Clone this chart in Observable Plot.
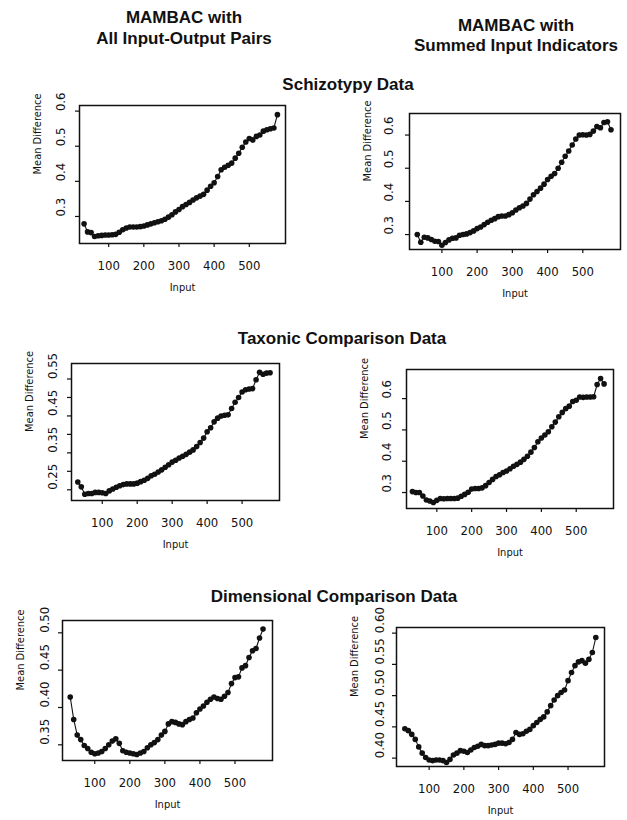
<!DOCTYPE html>
<html><head><meta charset="utf-8">
<script src="https://cdn.jsdelivr.net/npm/d3@7"></script>
<script src="https://cdn.jsdelivr.net/npm/@observablehq/plot@0.6"></script>
<style>
body{margin:0;background:#fff;}
#page{position:relative;width:627px;height:820px;overflow:hidden;background:#fff;}
.h{position:absolute;transform:translate(-50%,-50%);font-family:"Liberation Sans",Arial,sans-serif;font-weight:bold;font-size:17px;white-space:nowrap;color:#111;line-height:1}
.panel{position:absolute}
</style></head><body><div id="page"></div>
<script>
// ---- data ----
const inputs = [30,40,50,60,70,80,90,100,110,120,130,140,150,160,170,180,190,200,210,220,230,240,250,260,270,280,290,300,310,320,330,340,350,360,370,380,390,400,410,420,430,440,450,460,470,480,490,500,510,520,530,540,550,560,570,580];

const schizoAll = [0.279,0.256,0.254,0.243,0.245,0.246,0.247,0.247,0.248,0.249,0.255,0.262,0.267,0.270,0.270,0.270,0.271,0.273,0.276,0.279,0.282,0.285,0.288,0.292,0.298,0.305,0.313,0.320,0.328,0.334,0.340,0.347,0.353,0.358,0.363,0.375,0.386,0.396,0.414,0.433,0.440,0.446,0.452,0.466,0.480,0.497,0.512,0.522,0.518,0.528,0.532,0.543,0.547,0.550,0.552,0.590];
const schizoSum = [0.300,0.277,0.292,0.290,0.285,0.280,0.279,0.268,0.276,0.284,0.289,0.290,0.298,0.300,0.302,0.306,0.311,0.318,0.323,0.330,0.337,0.343,0.348,0.354,0.356,0.356,0.360,0.366,0.374,0.381,0.386,0.394,0.407,0.420,0.430,0.440,0.452,0.466,0.476,0.484,0.500,0.518,0.536,0.552,0.570,0.588,0.600,0.601,0.600,0.602,0.612,0.626,0.622,0.638,0.640,0.616];
const taxonAll = [0.271,0.258,0.238,0.240,0.240,0.243,0.243,0.242,0.240,0.247,0.252,0.257,0.261,0.264,0.266,0.266,0.266,0.268,0.272,0.276,0.281,0.288,0.292,0.298,0.304,0.311,0.318,0.325,0.330,0.336,0.341,0.346,0.352,0.358,0.367,0.378,0.390,0.407,0.418,0.434,0.444,0.450,0.452,0.453,0.470,0.487,0.500,0.515,0.521,0.523,0.524,0.548,0.568,0.563,0.566,0.567];
const taxonSum = [0.303,0.300,0.300,0.289,0.276,0.273,0.268,0.275,0.281,0.280,0.281,0.281,0.281,0.282,0.288,0.294,0.301,0.311,0.313,0.313,0.315,0.322,0.332,0.342,0.351,0.357,0.364,0.369,0.376,0.384,0.390,0.397,0.406,0.416,0.429,0.444,0.462,0.474,0.484,0.494,0.510,0.525,0.542,0.556,0.568,0.576,0.591,0.595,0.605,0.604,0.605,0.605,0.606,0.645,0.664,0.647];
const dimenAll = [0.414,0.384,0.363,0.357,0.349,0.345,0.340,0.338,0.339,0.341,0.345,0.350,0.355,0.358,0.352,0.342,0.340,0.339,0.338,0.337,0.339,0.341,0.346,0.350,0.353,0.357,0.363,0.368,0.378,0.381,0.380,0.378,0.377,0.381,0.384,0.386,0.393,0.398,0.402,0.407,0.411,0.414,0.412,0.411,0.415,0.420,0.432,0.440,0.441,0.453,0.456,0.467,0.476,0.479,0.493,0.505];
const dimenSum = [0.447,0.444,0.438,0.430,0.418,0.408,0.401,0.397,0.396,0.397,0.397,0.396,0.393,0.398,0.405,0.408,0.412,0.411,0.409,0.413,0.417,0.419,0.422,0.420,0.420,0.421,0.422,0.424,0.424,0.423,0.425,0.430,0.441,0.438,0.439,0.443,0.446,0.452,0.457,0.462,0.466,0.474,0.484,0.493,0.500,0.505,0.509,0.524,0.537,0.548,0.554,0.556,0.552,0.558,0.569,0.593];

const xTicks = [100,200,300,400,500];
const yTicksA = [0.3,0.4,0.5,0.6];
const yTicksB = [0.25,0.30,0.35,0.40,0.45,0.50,0.55];
const yLabelsB = [0.25,0.35,0.45,0.55];
const yTicksC = [0.35,0.40,0.45,0.50];
const yTicksD = [0.40,0.45,0.50,0.55,0.60];

const columnTitles = [["MAMBAC with","All Input-Output Pairs"],["MAMBAC with","Summed Input Indicators"]];
const rowTitles = ["Schizotypy Data","Taxonic Comparison Data","Dimensional Comparison Data"];
const yTitle = "Mean Difference";
const xTitle = "Input";

// ---- layout ----
const page = document.getElementById("page");
function heading(text, cx, cy, size){
  const d = document.createElement("div");
  d.className = "h"; d.textContent = text;
  d.style.left = cx + "px"; d.style.top = cy + "px";
  if (size) d.style.fontSize = size + "px";
  page.appendChild(d);
}
heading(columnTitles[0][0], 184, 17);
heading(columnTitles[0][1], 184, 38);
heading(columnTitles[1][0], 516, 25);
heading(columnTitles[1][1], 516, 45);
heading(rowTitles[0], 348, 84);
heading(rowTitles[1], 342, 338);
heading(rowTitles[2], 334, 596);

const FONT = '"Liberation Sans Narrow","DejaVu Sans Condensed","Liberation Sans",sans-serif';

const panels = [
  {values: schizoAll, frame:[79,105,285,243], xDomain:[17,603], yDomain:[0.223,0.616], yTicks:yTicksA, yLabels:yTicksA, fmt:d3.format(".1f"), yLabDx:19},
  {values: schizoSum, frame:[409,113,620,249], xDomain:[8,607], yDomain:[0.255,0.665], yTicks:yTicksA, yLabels:yTicksA, fmt:d3.format(".1f"), yLabDx:21},
  {values: taxonAll, frame:[71,363,279,500], xDomain:[12,607], yDomain:[0.221,0.592], yTicks:yTicksB, yLabels:yLabelsB, fmt:d3.format(".2f"), yLabDx:19},
  {values: taxonSum, frame:[406,369,613,508], xDomain:[13,607], yDomain:[0.249,0.693], yTicks:yTicksA, yLabels:yTicksA, fmt:d3.format(".1f"), yLabDx:20},
  {values: dimenAll, frame:[62,620,272,760], xDomain:[8,607], yDomain:[0.329,0.5165], yTicks:yTicksC, yLabels:yTicksC, fmt:d3.format(".2f"), yLabDx:18},
  {values: dimenSum, frame:[396,627,604,766], xDomain:[6,605], yDomain:[0.3866,0.609], yTicks:yTicksD, yLabels:yTicksD, fmt:d3.format(".2f"), yLabDx:17}
];

const mL = 52, mT = 6, mR = 6, mB = 58;
for (const p of panels) {
  const w = p.frame[2] - p.frame[0], h = p.frame[3] - p.frame[1];
  const data = inputs.map((x, i) => ({x, y: p.values[i]}));
  const chart = Plot.plot({
    width: w + mL + mR, height: h + mT + mB,
    marginLeft: mL, marginRight: mR, marginTop: mT, marginBottom: mB,
    style: {fontFamily: FONT, fontSize: "13px", background: "transparent", color: "#111", overflow: "visible"},
    x: {domain: p.xDomain},
    y: {domain: p.yDomain},
    marks: [
      Plot.axisX({ticks: xTicks, tickSize: 4, tickPadding: 13, label: null, fontSize: 13, strokeWidth: 1.2}),
      Plot.axisY({ticks: p.yTicks, tickSize: 4, tickFormat: () => "", label: null, strokeWidth: 1.2}),
      Plot.text(p.yLabels, {y: d => d, frameAnchor: "left", dx: -p.yLabDx, rotate: -90, text: d => p.fmt(d), fontSize: 13}),
      Plot.text([yTitle], {frameAnchor: "left", dx: -42, rotate: -90, text: d => d, fontSize: 11}),
      Plot.text([xTitle], {frameAnchor: "bottom", dy: 47, text: d => d, fontSize: 11}),
      Plot.frame({stroke: "#111", strokeWidth: 1.5}),
      Plot.line(data, {x: "x", y: "y", stroke: "#111", strokeWidth: 1.1}),
      Plot.dot(data, {x: "x", y: "y", r: 2.8, fill: "#111", stroke: "none"})
    ]
  });
  chart.classList.add("panel");
  chart.style.left = (p.frame[0] - mL) + "px";
  chart.style.top = (p.frame[1] - mT) + "px";
  page.appendChild(chart);
}
</script>
</body></html>
